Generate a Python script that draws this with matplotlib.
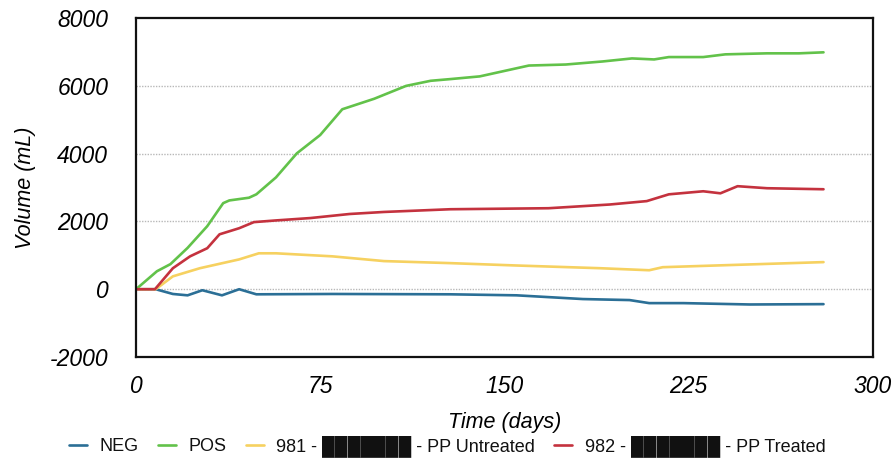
import matplotlib
matplotlib.use("Agg")
import matplotlib.pyplot as plt

# ---- data ----
neg_days = [0, 8, 15, 21, 27, 35, 42, 49, 80, 128, 155, 182, 201, 209, 223, 250, 280]
neg_vals = [0, 0, -140, -180, -30, -180, 0, -150, -140, -150, -180, -290, -320, -410, -410, -450, -440]

pos_days = [0, 8.5, 14, 21, 29, 35.5, 38, 46, 49, 57, 65.5, 75, 84, 97, 110, 120, 128, 140, 160, 175, 190, 202, 211, 217, 231, 240, 257, 270, 280]
pos_vals = [0, 530, 740, 1220, 1860, 2540, 2620, 2700, 2800, 3300, 4010, 4550, 5310, 5620, 6000, 6150, 6200, 6280, 6600, 6630, 6720, 6810, 6780, 6850, 6850, 6930, 6960, 6960, 6990]

u981_days = [0, 8, 15, 26, 42, 50, 57, 80, 101, 128, 155, 189, 209, 214.5, 236, 280]
u981_vals = [0, 0, 380, 620, 880, 1060, 1060, 970, 830, 770, 700, 620, 560, 650, 700, 800]

t982_days = [0, 7.7, 15, 22, 29, 34, 42, 48, 57, 71, 87, 101, 128, 168, 193, 208, 217, 231, 238, 245, 257, 280]
t982_vals = [0, 0, 620, 970, 1210, 1620, 1800, 1980, 2030, 2100, 2220, 2280, 2360, 2390, 2500, 2600, 2800, 2890, 2830, 3040, 2980, 2950]

series_labels = ["NEG", "POS", "981 - \u2588\u2588\u2588\u2588\u2588\u2588\u2588 - PP Untreated",
                 "982 - \u2588\u2588\u2588\u2588\u2588\u2588\u2588 - PP Treated"]
x_ticks = [0, 75, 150, 225, 300]
y_ticks = [-2000, 0, 2000, 4000, 6000, 8000]

colors = ["#2b6f96", "#62c24a", "#f6d160", "#c4323e"]

fam = ["Liberation Sans", "DejaVu Sans"]
plt.rcParams["font.family"] = fam

fig = plt.figure(figsize=(8.95, 4.58), dpi=100)
ax = fig.add_axes([0.152, 0.2205, 0.823, 0.740])

data = [(neg_days, neg_vals), (pos_days, pos_vals), (u981_days, u981_vals), (t982_days, t982_vals)]
for (d, v), c, lab in zip(data, colors, series_labels):
    ax.plot(d, v, color=c, lw=1.9, label=lab, solid_capstyle="round", solid_joinstyle="round")

ax.set_xlim(0, 300)
ax.set_ylim(-2000, 8000)
ax.set_xticks(x_ticks)
ax.set_yticks(y_ticks)
ax.set_xticklabels([str(t) for t in x_ticks], fontsize=16.5, style="italic")
ax.set_yticklabels([str(t) for t in y_ticks], fontsize=16.5, style="italic")
ax.tick_params(axis="both", length=0)
ax.tick_params(axis="y", pad=20)
ax.tick_params(axis="x", pad=13)

for y in [0, 2000, 4000, 6000]:
    ax.axhline(y, color="#b8b8b8", lw=1.0, ls=(0, (1, 1)), zorder=0)

for s in ax.spines.values():
    s.set_color("#111111")
    s.set_linewidth(1.6)

ax.set_xlabel("Time (days)", fontsize=15.5, style="italic", labelpad=10)
ax.set_ylabel("Volume (mL)", fontsize=15.5, style="italic", labelpad=10)

leg = fig.legend(loc="center", bbox_to_anchor=(0.5, 0.026), ncol=4, frameon=False,
                 fontsize=13.0, handlelength=1.0, handletextpad=0.7, columnspacing=1.05)
for t in leg.get_texts():
    t.set_color("#111111")

fig.savefig("out.png", dpi=100)
